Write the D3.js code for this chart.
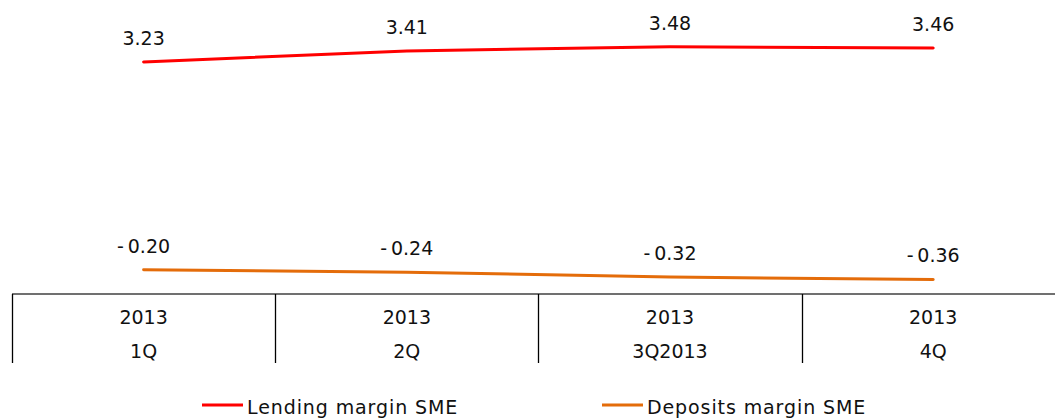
<!DOCTYPE html>
<html>
<head>
<meta charset="utf-8">
<script src="https://cdn.jsdelivr.net/npm/d3@7"></script>
<style>
  body { margin: 0; background: #fff; }
  svg { display: block; font-family: "DejaVu Sans", Verdana, sans-serif; }
</style>
</head>
<body>
<svg width="1055" height="419"></svg>
<script>
var categories = ["1Q 2013", "2Q 2013", "3Q 2013", "4Q 2013"];
var tickTop = ["2013", "2013", "2013", "2013"];
var tickBottom = ["1Q", "2Q", "3Q2013", "4Q"];
var lending = [3.23, 3.41, 3.48, 3.46];
var deposits = [-0.20, -0.24, -0.32, -0.36];
var seriesNames = ["Lending margin SME", "Deposits margin SME"];
var seriesColors = ["#ff0000", "#e46c0a"];

function main() {
  var svg = d3.select("svg");
  var axisY = 294;

  var x = d3.scaleBand()
    .domain(categories)
    .range([12, 12 + 4 * 263.2]);

  var y = d3.scaleLinear()
    .domain([-0.6, 4.25])
    .range([axisY, axisY - 4.85 * 60.6]);

  var series = [lending, deposits];
  var line = d3.line()
    .x(function(d, i) { return x(categories[i]) + x.bandwidth() / 2; })
    .y(function(d) { return y(d); });

  series.forEach(function(vals, s) {
    svg.append("path")
      .datum(vals)
      .attr("fill", "none")
      .attr("stroke", seriesColors[s])
      .attr("stroke-width", 3)
      .attr("stroke-linecap", "round")
      .attr("d", line);

    svg.selectAll(".lbl" + s)
      .data(vals)
      .enter()
      .append("text")
      .attr("class", "lbl" + s)
      .attr("x", function(d, i) { return x(categories[i]) + x.bandwidth() / 2; })
      .attr("y", function(d) { return y(d) - 17; })
      .attr("text-anchor", "middle")
      .attr("font-size", 19)
      .attr("fill", "#111")
      .text(function(d) { return d < 0 ? "-\u2009" + Math.abs(d).toFixed(2) : d.toFixed(2); });
  });

  // category axis
  svg.append("line")
    .attr("x1", 12).attr("x2", 1055)
    .attr("y1", axisY).attr("y2", axisY)
    .attr("stroke", "#404040").attr("stroke-width", 1.5);

  svg.selectAll(".tick")
    .data(categories)
    .enter()
    .append("line")
    .attr("class", "tick")
    .attr("x1", function(d) { return Math.round(x(d)) + 0.5; })
    .attr("x2", function(d) { return Math.round(x(d)) + 0.5; })
    .attr("y1", axisY).attr("y2", 363)
    .attr("stroke", "#000").attr("stroke-width", 1.3);

  var g = svg.selectAll(".cat")
    .data(categories)
    .enter()
    .append("g")
    .attr("transform", function(d) { return "translate(" + (x(d) + x.bandwidth() / 2) + ",0)"; });
  g.append("text")
    .attr("y", 324)
    .attr("text-anchor", "middle")
    .attr("font-size", 19)
    .attr("fill", "#111")
    .text(function(d, i) { return tickTop[i]; });
  g.append("text")
    .attr("y", 358)
    .attr("text-anchor", "middle")
    .attr("font-size", 19)
    .attr("fill", "#111")
    .text(function(d, i) { return tickBottom[i]; });

  // legend
  var legendX = [202, 602];
  seriesNames.forEach(function(name, s) {
    var lg = svg.append("g").attr("transform", "translate(" + legendX[s] + ",405)");
    lg.append("line")
      .attr("x1", 0).attr("x2", 41)
      .attr("stroke", seriesColors[s]).attr("stroke-width", 3);
    lg.append("text")
      .attr("x", 45).attr("y", 9)
      .attr("font-size", 19)
      .attr("letter-spacing", 0.9)
      .attr("fill", "#111")
      .text(name);
  });
}
main();
</script>
</body>
</html>
